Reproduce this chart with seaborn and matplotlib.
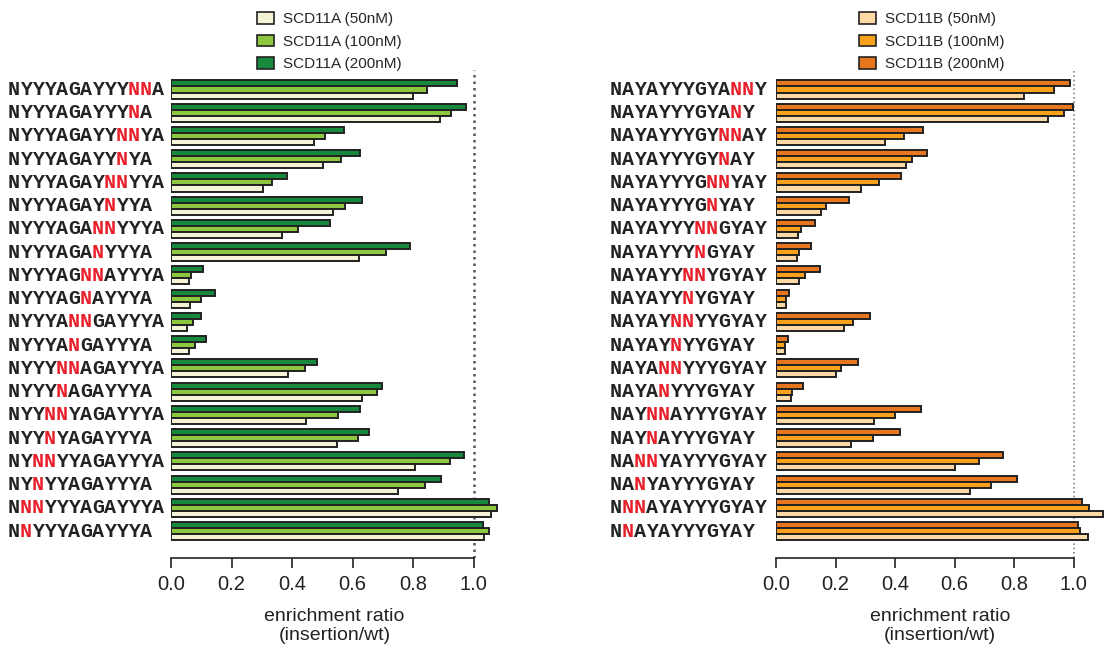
import pandas as pd
import seaborn as sns
import matplotlib.pyplot as plt
import matplotlib.transforms as mtransforms
from matplotlib.patches import Patch

# sequences, top to bottom
labels_a = ["NYYYAGAYYYNNA", "NYYYAGAYYYNA", "NYYYAGAYYNNYA", "NYYYAGAYYNYA",
            "NYYYAGAYNNYYA", "NYYYAGAYNYYA", "NYYYAGANNYYYA", "NYYYAGANYYYA",
            "NYYYAGNNAYYYA", "NYYYAGNAYYYA", "NYYYANNGAYYYA", "NYYYANGAYYYA",
            "NYYYNNAGAYYYA", "NYYYNAGAYYYA", "NYYNNYAGAYYYA", "NYYNYAGAYYYA",
            "NYNNYYAGAYYYA", "NYNYYAGAYYYA", "NNNYYYAGAYYYA", "NNYYYAGAYYYA"]
a_50 = [0.800, 0.888, 0.473, 0.503, 0.305, 0.536, 0.366, 0.622, 0.060, 0.063,
        0.054, 0.059, 0.388, 0.630, 0.447, 0.549, 0.806, 0.749, 1.056, 1.033]
a_100 = [0.845, 0.926, 0.509, 0.560, 0.335, 0.576, 0.420, 0.709, 0.067, 0.099,
         0.072, 0.079, 0.443, 0.681, 0.553, 0.617, 0.922, 0.840, 1.077, 1.050]
a_200 = [0.944, 0.973, 0.571, 0.624, 0.384, 0.632, 0.525, 0.791, 0.106, 0.145,
         0.100, 0.117, 0.483, 0.698, 0.623, 0.654, 0.967, 0.893, 1.050, 1.029]

labels_b = ["NAYAYYYGYANNY", "NAYAYYYGYANY", "NAYAYYYGYNNAY", "NAYAYYYGYNAY",
            "NAYAYYYGNNYAY", "NAYAYYYGNYAY", "NAYAYYYNNGYAY", "NAYAYYYNGYAY",
            "NAYAYYNNYGYAY", "NAYAYYNYGYAY", "NAYAYNNYYGYAY", "NAYAYNYYGYAY",
            "NAYANNYYYGYAY", "NAYANYYYGYAY", "NAYNNAYYYGYAY", "NAYNAYYYGYAY",
            "NANNYAYYYGYAY", "NANYAYYYGYAY", "NNNAYAYYYGYAY", "NNAYAYYYGYAY"]
b_50 = [0.834, 0.914, 0.365, 0.437, 0.287, 0.152, 0.075, 0.070, 0.078, 0.033,
        0.227, 0.030, 0.200, 0.051, 0.330, 0.253, 0.600, 0.652, 1.100, 1.048]
b_100 = [0.935, 0.968, 0.429, 0.457, 0.347, 0.169, 0.083, 0.078, 0.097, 0.033,
         0.259, 0.030, 0.220, 0.055, 0.401, 0.327, 0.681, 0.724, 1.050, 1.021]
b_200 = [0.987, 0.999, 0.495, 0.508, 0.421, 0.244, 0.131, 0.119, 0.148, 0.045,
         0.315, 0.041, 0.275, 0.091, 0.488, 0.416, 0.764, 0.810, 1.027, 1.014]

concs = ["50nM", "100nM", "200nM"]
pal_a = ["#f6f4d6", "#8dc63f", "#17893d"]
pal_b = ["#fdd9a5", "#f9a11b", "#e8761f"]
xticks = [0.0, 0.2, 0.4, 0.6, 0.8, 1.0]

sns.set_style("white")
plt.rcParams['font.family'] = ['Liberation Sans', 'DejaVu Sans']

fig = plt.figure(figsize=(11.04, 6.48), dpi=100)
W, H = 1104, 648


def make_df(labels, v50, v100, v200):
    rows = []
    for vals, c in zip([v50, v100, v200], concs):
        for lab, v in zip(labels, vals):
            rows.append({'seq': lab, 'conc': c, 'ratio': v})
    return pd.DataFrame(rows)


def draw_panel(left_px, right_px, xmax, labels, df, pal, name, label_x_px,
               legend_x_px, vline_color, vline_lw):
    ax = fig.add_axes([left_px / W, 1 - 558 / H, (right_px - left_px) / W, (558 - 70) / H])
    sns.barplot(data=df, x='ratio', y='seq', hue='conc', order=labels,
                hue_order=concs[::-1], palette=pal[::-1], orient='h',
                width=0.78, saturation=1, edgecolor='#222222', linewidth=1.4,
                ax=ax, legend=False)
    ax.set_xlim(0, xmax)
    ax.set_ylim(20.16, -0.84)
    ax.axvline(1.0, color=vline_color, lw=vline_lw, ls=(0, (1, 1.6)), zorder=0)
    for s in ['left', 'top', 'right']:
        ax.spines[s].set_visible(False)
    ax.spines['bottom'].set_bounds(0, 1.0)
    ax.spines['bottom'].set_linewidth(1.2)
    ax.spines['bottom'].set_color('#222222')
    ax.set_xticks(xticks)
    ax.set_xticklabels([f"{t:.1f}" for t in xticks])
    ax.tick_params(axis='x', direction='out', length=7, width=1.2, labelsize=14.5,
                   pad=5, color='#222222', labelcolor='#222222', bottom=True)
    ax.tick_params(axis='y', length=0, labelleft=False)
    ax.set_ylabel('')
    ax.set_xlabel('enrichment ratio\n(insertion/wt)', fontsize=14, labelpad=10,
                  linespacing=1.15, color='#222222')

    # sequence labels, inserted N's in red
    fs = 14.4
    cw = 0.6 * fs / 72 * 100 / W
    tr = mtransforms.blended_transform_factory(fig.transFigure, ax.transData)
    for i, lab in enumerate(labels):
        for j, ch in enumerate(lab):
            col = '#e8202a' if (ch == 'N' and j > 0) else '#222222'
            ax.text(label_x_px / W + j * cw, i, ch, transform=tr, ha='left',
                    va='center', fontsize=fs, family='Liberation Mono',
                    fontweight='bold', color=col, clip_on=False)

    handles = [Patch(facecolor=c, edgecolor='#222222', lw=1.2) for c in pal]
    ax.legend(handles, [f"{name} ({c})" for c in concs], loc='upper left',
              bbox_to_anchor=(legend_x_px / W, 1 - 12 / H),
              bbox_transform=fig.transFigure, frameon=False, fontsize=11,
              handlelength=1.1, handleheight=0.8, handletextpad=0.6,
              labelspacing=0.55, borderpad=0, borderaxespad=0)
    return ax


df_a = make_df(labels_a, a_50, a_100, a_200)
df_b = make_df(labels_b, b_50, b_100, b_200)

draw_panel(171, 498, 1.08, labels_a, df_a, pal_a, 'SCD11A', 8, 257, '#555555', 1.8)
draw_panel(776, 1104, 1.102, labels_b, df_b, pal_b, 'SCD11B', 610, 859, '#888888', 1.2)

fig.savefig('out.png', dpi=100)
